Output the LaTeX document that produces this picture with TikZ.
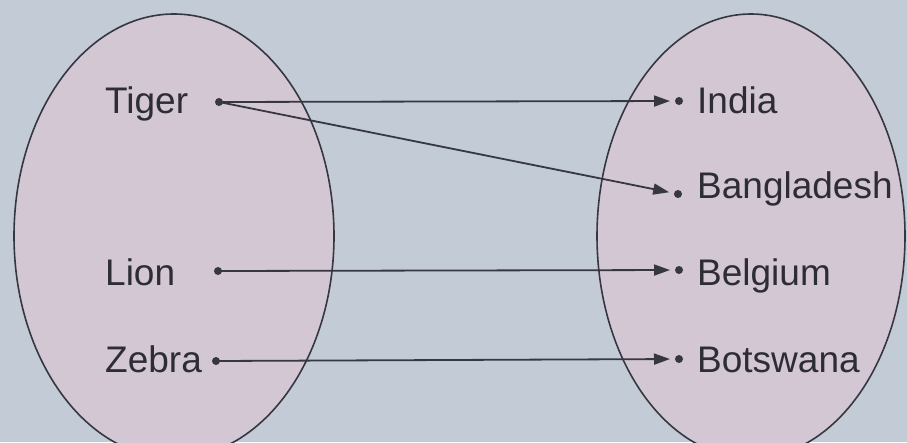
\documentclass[tikz,border=0pt]{standalone}
\usepackage{fontspec}
\setmainfont{Liberation Sans}
\usetikzlibrary{arrows.meta}
\definecolor{bgc}{RGB}{195,204,214}
\definecolor{setc}{RGB}{210,199,210}
\definecolor{inkc}{RGB}{55,55,65}
\definecolor{txtc}{RGB}{45,45,55}
\tikzset{
  setshape/.style={draw=inkc, line width=1.6pt, fill=setc},
  elem/.style={circle, fill=inkc, inner sep=0pt, minimum size=8pt},
  lbl/.style={anchor=base west, inner sep=0pt, text=txtc, font=\fontsize{37}{40}\selectfont},
  mapto/.style={draw=inkc, line width=1.8pt, -{Triangle[length=16pt,width=11pt]}, shorten >=9pt}
}
\begin{document}
\begin{tikzpicture}[x=1pt,y=-1pt]
\fill[bgc] (0,0) rectangle (907,442);
\useasboundingbox (0,0) rectangle (907,442);
\draw[setshape] (174,236) ellipse [x radius=160, y radius=222];
\draw[setshape] (751,236) ellipse [x radius=154, y radius=222];
% left labels
\node[lbl] (tiger) at (105,113) {Tiger};
\node[lbl] (lion) at (105,285) {Lion};
\node[lbl] (zebra) at (105,372) {Zebra};
% right labels
\node[lbl] (india) at (697,113) {India};
\node[lbl] (bangladesh) at (697,198) {Bangladesh};
\node[lbl] (belgium) at (697,285) {Belgium};
\node[lbl] (botswana) at (697,372) {Botswana};
% dots
\node[elem] (dtiger) at (219,102) {};
\node[elem] (dlion) at (218,271) {};
\node[elem] (dzebra) at (216,361) {};
\node[elem] (dindia) at (679,101) {};
\node[elem] (dbangladesh) at (678,194) {};
\node[elem] (dbelgium) at (679,270) {};
\node[elem] (dbotswana) at (679,359) {};
% mappings
\draw[mapto] (dtiger.center) -- (dindia.center);
\draw[mapto] (dtiger.center) -- (dbangladesh.center);
\draw[mapto] (dlion.center) -- (dbelgium.center);
\draw[mapto] (dzebra.center) -- (dbotswana.center);
\end{tikzpicture}
\end{document}
